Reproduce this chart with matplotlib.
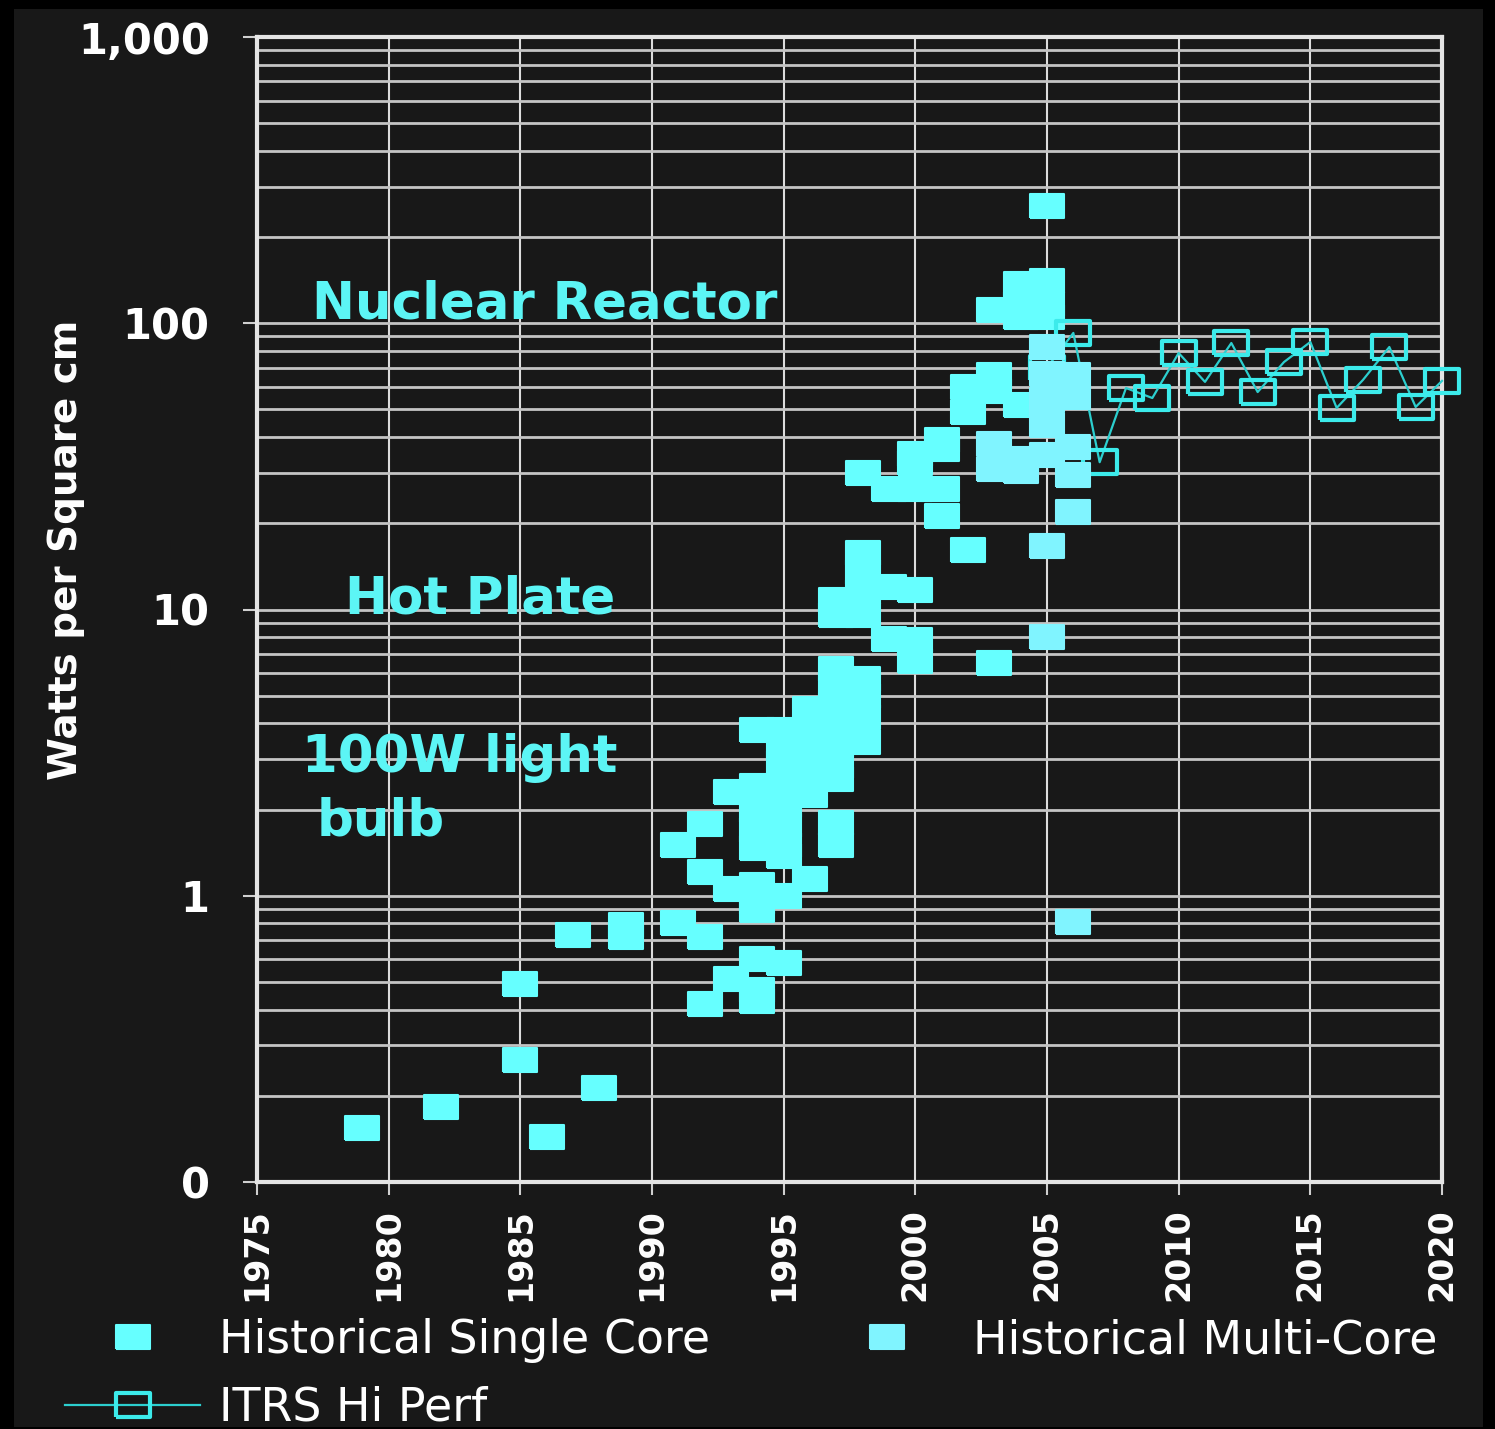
import matplotlib
matplotlib.use('Agg')
import matplotlib.pyplot as plt
import matplotlib.ticker
from matplotlib import font_manager
from matplotlib.markers import MarkerStyle
from matplotlib.patches import Rectangle

# Historical single core power density (W/cm^2), one entry per chip.
sc_year = [1979, 1982, 1985, 1985, 1986, 1987, 1988, 1989, 1989,
           1991, 1991, 1992, 1992, 1992, 1992, 1993, 1993, 1993,
           1994, 1994, 1994, 1994, 1994, 1994, 1994, 1994, 1994, 1994, 1994,
           1995, 1995, 1995, 1995, 1995, 1995, 1995, 1995, 1995, 1995,
           1996, 1996, 1996, 1996, 1996, 1996,
           1997, 1997, 1997, 1997, 1997, 1997, 1997, 1997, 1997, 1997, 1997,
           1998, 1998, 1998, 1998, 1998, 1998, 1998, 1998, 1998,
           1999, 1999, 1999,
           2000, 2000, 2000, 2000, 2000, 2000,
           2001, 2001, 2001, 2001,
           2002, 2002, 2002,
           2003, 2003, 2003, 2003,
           2004, 2004, 2004, 2004,
           2005, 2005, 2005, 2005]
sc_watts = [0.155, 0.183, 0.49, 0.267, 0.144, 0.73, 0.213, 0.79, 0.72,
            1.5, 0.8, 1.78, 1.21, 0.72, 0.42, 2.3, 1.06, 0.51,
            3.8, 2.42, 2.0, 1.7, 1.47, 1.09, 0.95, 0.89, 0.6, 0.47, 0.43,
            3.8, 3.3, 2.9, 2.45, 2.07, 1.77, 1.5, 1.38, 1.0, 0.58,
            4.5, 3.8, 3.2, 2.75, 2.25, 1.14,
            6.2, 5.4, 4.65, 3.95, 3.35, 2.85, 2.55, 1.8, 1.5, 10.8, 9.6,
            5.7, 5.0, 4.2, 3.45, 15.8, 13.5, 11.5, 9.6, 30.0,
            12.0, 7.9, 26.4,
            11.7, 7.8, 6.6, 35.0, 32.5, 26.4,
            39.0, 36.5, 26.4, 21.2,
            60.0, 49.0, 16.2,
            111.0, 66.0, 58.0, 6.5,
            137.0, 117.0, 105.0, 52.0,
            256.0, 140.0, 117.0, 105.0]

# Historical multi-core parts.
mc_year = [2003, 2003, 2004, 2004,
           2005, 2005, 2005, 2005, 2005, 2005, 2005,
           2006, 2006, 2006, 2006, 2006, 2006]
mc_watts = [38.0, 31.0, 33.5, 30.5,
            82.6, 66.5, 53.9, 44.1, 34.7, 16.7, 8.0,
            65.9, 55.2, 37.0, 29.5, 21.9, 0.81]

# ITRS high performance roadmap.
itrs_year = list(range(2005, 2021))
itrs_watts = [70.0, 92.5, 32.7, 59.4, 54.8, 78.7, 62.4, 85.3,
              57.5, 73.2, 86.0, 50.6, 63.4, 82.6, 51.0, 62.9]

year_ticks = list(range(1975, 2021, 5))
watt_ticks = [0.1, 1, 10, 100, 1000]
watt_labels = ['0', '1', '10', '100', '1,000']

BG = '#181818'
SINGLE = '#66FFFF'
MULTI = '#80F4FF'
ITRS_LINE = '#2CCFCF'
ITRS_EDGE = '#3CEBEB'
NOTE = '#5CF5F5'

W, H = 1495, 1429
fig = plt.figure(figsize=(W / 100, H / 100), dpi=100, facecolor='black')
fig.patches.append(Rectangle((14 / W, 2 / H), (1483 - 14) / W, (1420 - 2) / H,
                             transform=fig.transFigure, facecolor=BG,
                             edgecolor='none', zorder=-5))

ax = fig.add_axes([257 / W, 1 - 1182 / H, (1442 - 257) / W, (1182 - 37) / H])
ax.set_facecolor(BG)

# wide, slightly flat rounded box used for every marker
box = [(-0.5, -0.36), (0.5, -0.36), (0.5, 0.36), (-0.5, 0.36), (-0.5, -0.36)]
box_marker = MarkerStyle(box, joinstyle='round')

h_single, = ax.plot(sc_year, sc_watts, linestyle='none', marker=box_marker,
                    ms=24, mfc=SINGLE, mec=SINGLE, mew=1.5, zorder=3,
                    label='Historical Single Core')
h_itrs, = ax.plot(itrs_year, itrs_watts, color=ITRS_LINE, lw=1.6,
                  marker=box_marker, ms=24, mfc='none', mec=ITRS_EDGE,
                  mew=3.0, zorder=4, clip_on=False, label='ITRS Hi Perf')
h_multi, = ax.plot(mc_year, mc_watts, linestyle='none', marker=box_marker,
                   ms=24, mfc=MULTI, mec=MULTI, mew=1.5, zorder=5,
                   label='Historical Multi-Core')

ax.set_yscale('log')
ax.set_ylim(0.1, 1000)
ax.set_xlim(1975, 2020)

ax.xaxis.set_major_locator(matplotlib.ticker.FixedLocator(year_ticks))
ax.yaxis.set_major_locator(matplotlib.ticker.FixedLocator(watt_ticks))
ax.yaxis.set_major_formatter(matplotlib.ticker.FixedFormatter(watt_labels))
ax.yaxis.set_minor_locator(matplotlib.ticker.LogLocator(base=10, subs=range(2, 10)))
ax.yaxis.set_minor_formatter(matplotlib.ticker.NullFormatter())

ax.grid(which='major', axis='x', color='#dcdcdc', lw=1.5, zorder=1)
ax.grid(which='both', axis='y', color='#c4c4c4', lw=2.0, zorder=1)
ax.set_axisbelow(True)

for side in ('left', 'bottom', 'top', 'right'):
    ax.spines[side].set_color('#e4e4e4')
    ax.spines[side].set_linewidth(3.0)

ax.tick_params(axis='y', which='major', length=10, width=1.5, color='#d0d0d0',
               pad=24, labelsize=30, labelcolor='white')
ax.tick_params(axis='y', which='minor', length=0)
ax.tick_params(axis='x', which='major', length=9, width=1.5, color='#d0d0d0',
               pad=10, labelsize=24, labelcolor='white', labelrotation=90)
for lbl in ax.get_xticklabels() + ax.get_yticklabels():
    lbl.set_fontweight('bold')

# reference points for scale
note_kw = dict(color=NOTE, fontsize=37, fontweight='bold', va='baseline',
               ha='left', zorder=6)
ax.text(1977.1, 104, 'Nuclear Reactor', **note_kw)
ax.text(1978.35, 9.7, 'Hot Plate', **note_kw)
ax.text(1976.7, 2.7, '100W light', **note_kw)
ax.text(1977.28, 1.63, 'bulb', **note_kw)

installed = {f.name for f in font_manager.fontManager.ttflist}
if 'Liberation Sans Narrow' in installed:
    ylab_font = dict(family='Liberation Sans Narrow', fontsize=40)
else:
    ylab_font = dict(family='DejaVu Sans', fontsize=28)
fig.text(66 / W, 1 - 550 / H, 'Watts per Square cm', rotation=90,
         ha='center', va='center', color='white', fontweight='bold', **ylab_font)

fig.legend(handles=[h_single, h_itrs, h_multi],
           labels=['Historical Single Core', 'ITRS Hi Perf', 'Historical Multi-Core'],
           ncol=2, loc='upper left', bbox_to_anchor=(65 / W, 1 - 1318 / H),
           frameon=False, fontsize=33, labelcolor='white',
           handlelength=2.95, handletextpad=0.4, columnspacing=2.4,
           labelspacing=0.5, borderpad=0, borderaxespad=0)

fig.savefig('out.png', dpi=100, facecolor=fig.get_facecolor())
